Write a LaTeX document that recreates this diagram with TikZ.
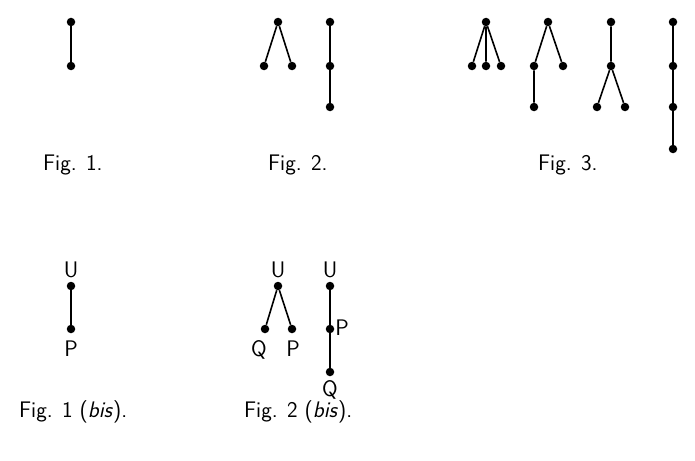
\documentclass[tikz,border=0pt]{standalone}
\begin{document}
\begin{tikzpicture}[x=1pt,y=-1pt,
  dot/.style={circle,fill=black,inner sep=0pt,minimum size=8.5pt},
  edge/.style={line width=1.6pt},
  lbl/.style={anchor=base,inner sep=0pt,font=\fontsize{22.5}{27}\selectfont\sffamily},
  figcap/.style={lbl,anchor=base west}]
\useasboundingbox (0,0) rectangle (695,460);
% Fig 1
\node[dot] (a1) at (71,22) {};
\node[dot] (a2) at (71,66) {};
\draw[edge] (a1) -- (a2);
\node[figcap] (f1) at (43,170) {Fig. 1.};
% Fig 2
\node[dot] (b1) at (278,22) {};
\node[dot] (b2) at (264,66) {};
\node[dot] (b3) at (292,66) {};
\draw[edge] (b2) -- (b1) -- (b3);
\node[dot] (c1) at (330,22) {};
\node[dot] (c2) at (330,66) {};
\node[dot] (c3) at (330,107) {};
\draw[edge] (c1) -- (c2) -- (c3);
\node[figcap] (f2) at (268,170) {Fig. 2.};
% Fig 3
\node[dot] (d1) at (486,22) {};
\node[dot] (d2) at (472,66) {};
\node[dot] (d3) at (486,66) {};
\node[dot] (d4) at (501,66) {};
\draw[edge] (d1) -- (d2) (d1) -- (d3) (d1) -- (d4);
\node[dot] (e1) at (548,22) {};
\node[dot] (e2) at (534,66) {};
\node[dot] (e3) at (563,66) {};
\node[dot] (e4) at (534,107) {};
\draw[edge] (e4) -- (e2) -- (e1) -- (e3);
\node[dot] (g1) at (611,22) {};
\node[dot] (g2) at (611,66) {};
\node[dot] (g3) at (597,107) {};
\node[dot] (g4) at (625,107) {};
\draw[edge] (g1) -- (g2) (g3) -- (g2) -- (g4);
\node[dot] (h1) at (673,22) {};
\node[dot] (h2) at (673,66) {};
\node[dot] (h3) at (673,107) {};
\node[dot] (h4) at (673,149) {};
\draw[edge] (h1) -- (h2) -- (h3) -- (h4);
\node[figcap] (f3) at (538,170) {Fig. 3.};
% Fig 1 bis
\node[dot] (p1) at (71,286) {};
\node[dot] (p2) at (71,329) {};
\draw[edge] (p1) -- (p2);
\node[lbl] (pu) at (71,277) {U};
\node[lbl] (pp) at (71,356) {P};
\node[figcap] (f4) at (19,417) {Fig. 1 (\textit{bis}).};
% Fig 2 bis
\node[dot] (q1) at (278,286) {};
\node[dot] (q2) at (265,329) {};
\node[dot] (q3) at (292,329) {};
\draw[edge] (q2) -- (q1) -- (q3);
\node[lbl] (qu) at (278,277) {U};
\node[lbl] (qq) at (259,356) {Q};
\node[lbl] (qp) at (293,356) {P};
\node[dot] (r1) at (330,286) {};
\node[dot] (r2) at (330,329) {};
\node[dot] (r3) at (330,372) {};
\draw[edge] (r1) -- (r2) -- (r3);
\node[lbl] (ru) at (330,277) {U};
\node[lbl] (rp) at (342,335) {P};
\node[lbl] (rq) at (330,396) {Q};
\node[figcap] (f5) at (244,417) {Fig. 2 (\textit{bis}).};
\end{tikzpicture}
\end{document}
